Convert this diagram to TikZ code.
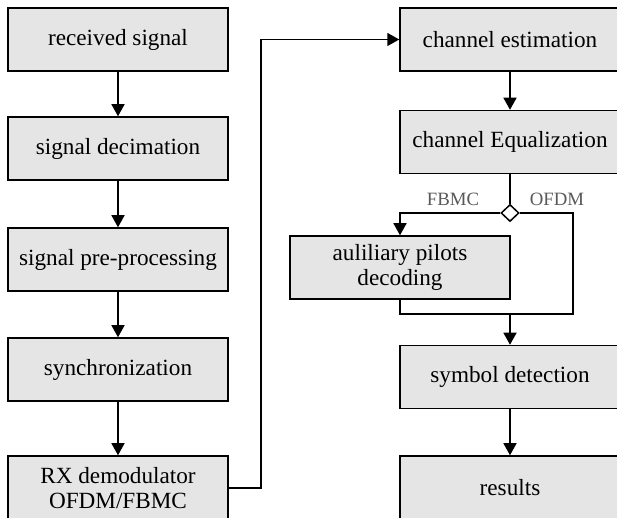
\documentclass[tikz,border=0pt]{standalone}
\usepackage{fontspec}
\setmainfont{Liberation Serif}
\usetikzlibrary{arrows.meta,shapes.geometric}

\begin{document}
\begin{tikzpicture}[x=0.5pt, y=-0.5pt,
		block/.style={draw=black, fill=black!10, line width=0.75pt, minimum width=110pt, minimum height=31.5pt, inner sep=2pt, align=center, font=\fontsize{11.6}{12.5}\selectfont},
		flow/.style={draw=black, line width=0.75pt, -{Triangle[width=6.5pt,length=6pt]}},
		wire/.style={draw=black, line width=0.75pt},
		branch/.style={text=black!65, font=\fontsize{9.4}{11}\selectfont}]
		\useasboundingbox (0,0) rectangle (617,518);
		\pgfmathsetmacro{\leftx}{118}
		\pgfmathsetmacro{\rightx}{510}

		% left column
		\node[block] (recv) at (\leftx,39.5) {received signal};
		\node[block] (decim) at (\leftx,148.5) {signal decimation};
		\node[block] (preproc) at (\leftx,259.5) {signal pre-processing};
		\node[block] (sync) at (\leftx,369.5) {synchronization};
		\node[block, minimum height=32pt] (demod) at (\leftx,488) {RX demodulator\\OFDM/FBMC};

		% right column
		\node[block] (chest) at (\rightx,39.5) {channel estimation};
		\node[block] (cheq) at (\rightx,142) {channel Equalization};
		\node[diamond, draw=black, fill=white, line width=0.75pt, inner sep=0pt, minimum width=9pt, minimum height=8.5pt] (split) at (\rightx,213) {};
		\node[block] (aux) at (400,267.5) {auliliary pilots\\decoding};
		\node[block] (symdet) at (\rightx,377) {symbol detection};
		\node[block] (results) at (\rightx,487.5) {results};
		\node[branch] (fbmc) at (453,199) {FBMC};
		\node[branch] (ofdm) at (557,199) {OFDM};
		\coordinate (join) at (\rightx,314);

		\draw[flow] (recv) -- (decim);
		\draw[flow] (decim) -- (preproc);
		\draw[flow] (preproc) -- (sync);
		\draw[flow] (sync) -- (demod);
		\draw[flow] (demod.east) -- ++(32,0) |- (chest.west);
		\draw[flow] (chest) -- (cheq);
		\draw[wire] (cheq) -- (split);
		\draw[flow] (split.west) -| (aux.north);
		\draw[wire] (split.east) -| (573,314) -- (join);
		\draw[wire] (aux.south) |- (join);
		\draw[flow] (join) -- (symdet);
		\draw[flow] (symdet) -- (results);
	\end{tikzpicture}
\end{document}
